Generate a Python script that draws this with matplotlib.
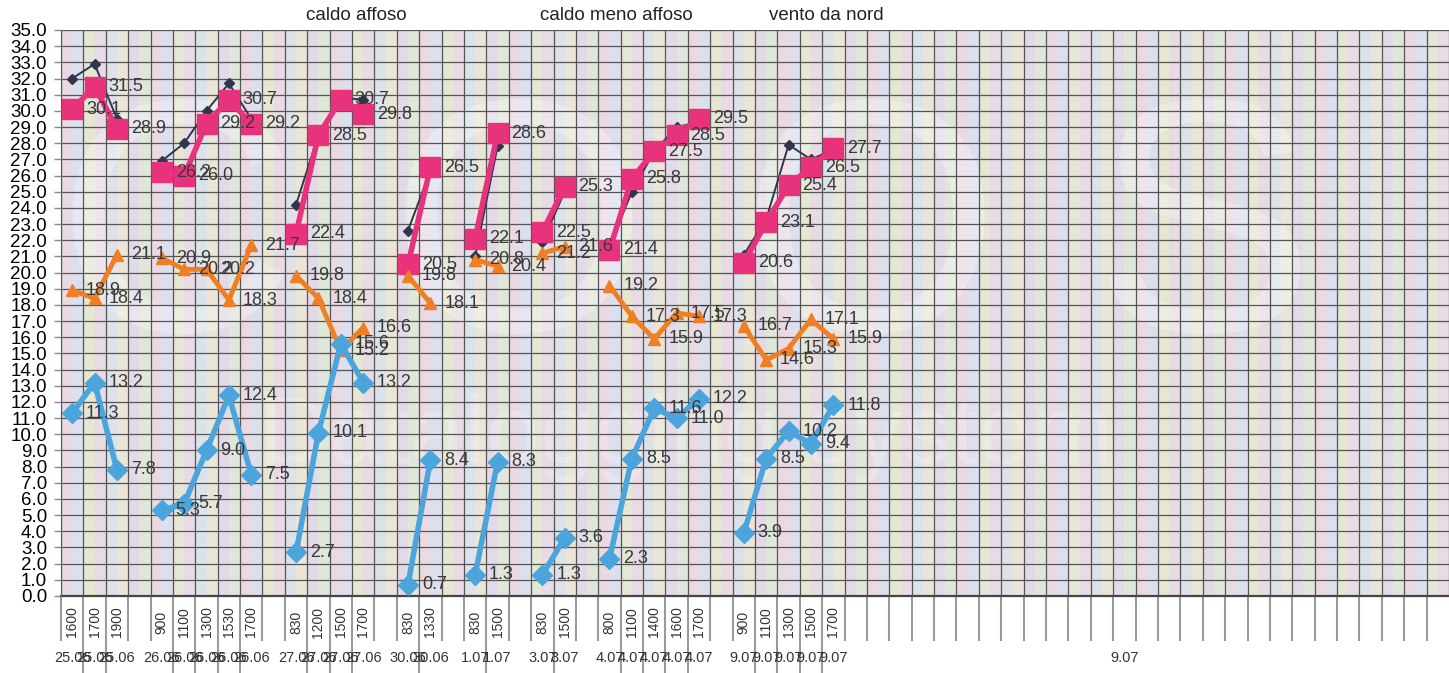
import numpy as np
import matplotlib
matplotlib.use('Agg')
from matplotlib import pyplot as plt
from matplotlib import transforms

nan = np.nan

# ore di misura e date (colonne vuote = separatori fra i giorni)
times = ['1600', '1700', '1900', '', '900', '1100', '1300', '1530', '1700', '',
         '830', '1200', '1500', '1700', '', '830', '1330', '', '830', '1500', '',
         '830', '1500', '', '800', '1100', '1400', '1600', '1700', '',
         '900', '1100', '1300', '1500', '1700']
dates = ['25.06', '25.06', '25.06', '', '26.06', '26.06', '26.06', '26.06', '26.06', '',
         '27.06', '27.06', '27.06', '27.06', '', '30.06', '30.06', '', '1.07', '1.07', '',
         '3.07', '3.07', '', '4.07', '4.07', '4.07', '4.07', '4.07', '',
         '9.07', '9.07', '9.07', '9.07', '9.07']
tail_date = '9.07'
n_columns = 62

# serie (non etichettata, linea sottile scura)
dark = [32.0, 32.9, 29.5, nan, 26.9, 28.0, 30.0, 31.7, 29.5, nan,
        24.2, 28.5, 30.8, 30.7, nan, 22.6, 26.3, nan, 21.0, 27.8, nan,
        21.9, 25.0, nan, 21.6, 25.0, 27.5, 29.0, 29.3, nan,
        21.1, 23.3, 27.9, 27.0, 27.6]
pink = [30.1, 31.5, 28.9, nan, 26.2, 26.0, 29.2, 30.7, 29.2, nan,
        22.4, 28.5, 30.7, 29.8, nan, 20.5, 26.5, nan, 22.1, 28.6, nan,
        22.5, 25.3, nan, 21.4, 25.8, 27.5, 28.5, 29.5, nan,
        20.6, 23.1, 25.4, 26.5, 27.7]
orange = [18.9, 18.4, 21.1, nan, 20.9, 20.2, 20.2, 18.3, 21.7, nan,
          19.8, 18.4, 15.2, 16.6, nan, 19.8, 18.1, nan, 20.8, 20.4, nan,
          21.2, 21.6, nan, 19.2, 17.3, 15.9, 17.5, 17.3, nan,
          16.7, 14.6, 15.3, 17.1, 15.9]
blue = [11.3, 13.2, 7.8, nan, 5.3, 5.7, 9.0, 12.4, 7.5, nan,
        2.7, 10.1, 15.6, 13.2, nan, 0.7, 8.4, nan, 1.3, 8.3, nan,
        1.3, 3.6, nan, 2.3, 8.5, 11.6, 11.0, 12.2, nan,
        3.9, 8.5, 10.2, 9.4, 11.8]

notes = ['caldo affoso', 'caldo meno affoso', 'vento da nord']

plt.rcParams['font.family'] = ['Liberation Sans', 'DejaVu Sans']

stripe_colors = ['#ebd9e2', '#dcdfee', '#e5e7d3', '#e8dbe5', '#dbe2e9', '#eae5d6',
                 '#e3dae9', '#dfe6da']

fig = plt.figure(figsize=(14.49, 6.73), dpi=100)
ax = fig.add_axes([61 / 1449, 77 / 673, 1 - 61 / 1449, 566 / 673])

x = np.arange(len(times))

# sfondo a strisce pastello (scansione)
for k in range(n_columns):
    ax.axvspan(k - 0.5, k, color=stripe_colors[(2 * k) % len(stripe_colors)], lw=0, zorder=0)
    ax.axvspan(k, k + 0.5, color=stripe_colors[(2 * k + 1) % len(stripe_colors)], lw=0, zorder=0)

# filigrana
ax.text(0.45, 0.62, 'C O O S', transform=ax.transAxes, fontsize=240, color='white',
        alpha=0.28, ha='center', va='center', zorder=1)
ax.text(0.45, 0.28, 'Datalogging system', transform=ax.transAxes, fontsize=70, color='white',
        alpha=0.22, ha='center', va='center', zorder=1)

ax.plot(x, dark, color='#2e3650', lw=1.4, marker='D', ms=5, zorder=3)
ax.plot(x, pink, color='#e8327c', lw=4, marker='s', ms=15, zorder=4)
ax.plot(x, orange, color='#f07e22', lw=3.5, marker='^', ms=9, zorder=4)
ax.plot(x, blue, color='#4ba4dc', lw=4, marker='D', ms=10, zorder=4)

for series in (pink, orange, blue):
    for xi, v in zip(x, series):
        if not np.isnan(v):
            ax.annotate('%.1f' % v, (xi, v), xytext=(10, 0), textcoords='offset points',
                        ha='left', va='center', fontsize=13, color='#383838', zorder=6)

ax.set_xlim(-0.5, n_columns - 0.81)
ax.set_ylim(0, 35)
ax.set_yticks(np.arange(0, 36, 1))
ax.set_yticklabels(['%.1f' % v for v in range(36)])
ax.set_xticks(np.arange(-0.5, n_columns, 1), minor=True)
ax.set_xticks([])
ax.tick_params(axis='y', labelsize=13.5, length=5, width=1, color='#888888', pad=5)
ax.tick_params(axis='x', which='both', length=0)
ax.grid(True, axis='y', which='major', color='#555555', lw=0.9, zorder=2)
ax.grid(True, axis='x', which='minor', color='#555555', lw=0.9, zorder=2)
ax.set_axisbelow(False)
for side in ['top', 'right']:
    ax.spines[side].set_visible(False)
ax.spines['left'].set_color('#555555')
ax.spines['bottom'].set_color('#444444')
ax.spines['bottom'].set_linewidth(1.6)

# linee sotto l'asse e etichette delle categorie
blend = transforms.blended_transform_factory(ax.transData, ax.transAxes)
for k in range(n_columns):
    b = k - 0.5
    left_ok = 0 < k < len(times) and times[k - 1] != ''
    right_ok = k < len(times) and times[k] != ''
    y_end = -0.137 if (left_ok and right_ok) else -0.078
    ax.plot([b, b], [0, y_end], transform=blend, color='#9a9a9a', lw=1.5, clip_on=False)

for xi, t, d in zip(x, times, dates):
    if t:
        ax.text(xi, -0.046, t, transform=blend, rotation=90, ha='center', va='center',
                fontsize=10, color='#333333')
        ax.text(xi, -0.109, d, transform=blend, ha='center', va='center',
                fontsize=10.5, color='#333333')
ax.text(47, -0.109, tail_date, transform=blend, ha='center', va='center',
        fontsize=10.5, color='#333333')

for txt, xpos in zip(notes, [306, 540, 769]):
    fig.text(xpos / 1449, 1 - 15 / 673, txt, ha='left', va='center', fontsize=13.5,
             color='#222222')

fig.savefig('out.png', dpi=100)
